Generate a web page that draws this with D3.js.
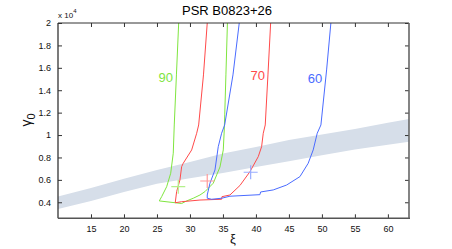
<!DOCTYPE html>
<html><head><meta charset="utf-8">
<script src="https://cdn.jsdelivr.net/npm/d3@7"></script>
<style>body{margin:0;background:#fff}svg{display:block;font-family:"Liberation Sans",Arial,sans-serif}</style>
</head><body><svg id="c" width="452" height="249"></svg>
<script>
const title = "PSR B0823+26";
const xTicks = [15,20,25,30,35,40,45,50,55,60];
const yTicks = [0.4,0.6,0.8,1,1.2,1.4,1.6,1.8,2];
const yTickLabels = ["0.4","0.6","0.8","1","1.2","1.4","1.6","1.8","2"];
// band (gamma0 in units of 1e4)
const bandXi    = [10, 15, 20, 25, 30, 35, 40, 45, 50, 55, 60, 63.2];
const bandUpper = [0.452,0.528,0.61,0.687,0.76,0.835,0.894,0.956,1.006,1.054,1.109,1.144];
const bandLower = [0.34,0.412,0.491,0.566,0.614,0.662,0.714,0.766,0.82,0.871,0.913,0.941];
// contours [xi, gamma0/1e4]
const contour90 = [[28.29,2.0],[27.95,1.537],[27.62,1.09],[27.47,0.838],[27.08,0.659],[26.47,0.539],[25.71,0.45],[25.35,0.412],[27.73,0.396],[28.74,0.389],[29.5,0.412],[30.5,0.436],[31.52,0.465],[32.27,0.495],[33.53,0.57],[34.55,0.715],[35.05,0.867],[35.2,1.045],[35.27,1.18],[35.45,1.537],[35.68,2.0]];
const contour70 = [[32.62,2.0],[32.05,1.537],[31.32,1.09],[31.02,1.016],[30.26,0.867],[28.98,0.748],[28.74,0.718],[28.48,0.599],[27.98,0.495],[27.77,0.396],[28.74,0.405],[31.52,0.42],[34.8,0.427],[34.85,0.45],[36.06,0.465],[37.58,0.55],[39.09,0.673],[40.35,0.807],[40.86,0.896],[41.11,1.016],[41.41,1.09],[41.82,1.537],[42.23,2.0]];
const contour60 = [[37.47,2.0],[36.52,1.537],[35.26,1.09],[34.8,1.016],[34.29,0.896],[33.79,0.688],[33.03,0.57],[32.62,0.465],[32.62,0.436],[33.29,0.427],[34.8,0.436],[36.06,0.454],[40.6,0.468],[40.71,0.492],[42.62,0.51],[44.65,0.554],[46.67,0.629],[47.92,0.748],[48.68,0.867],[49.29,1.016],[49.85,1.09],[50.71,1.581],[51.36,2.0]];
const contourLabels = ["90","70","60"];
const labelPos = [[26.32,1.516],[40.26,1.528],[48.94,1.504]];
const bestFit = [[28.23,0.539],[32.62,0.59],[39.2,0.668]];
const lineColors = ["#7fe53f","#ff4a4a","#4a6bff"];
const crossColors = ["#b4f08c","#ff9a9a","#98acff"];

const svg = d3.select("#c");
const L=58, R=409, T=23, B=218.3;
const x = d3.scaleLinear().domain([10,63.2]).range([L,R]);
const y = d3.scaleLinear().domain([0.257,2]).range([B,T]);

svg.append("defs").append("clipPath").attr("id","clip").append("rect")
  .attr("x",L).attr("y",T).attr("width",R-L).attr("height",B-T);
const plot = svg.append("g").attr("clip-path","url(#clip)");

const band = bandXi.map((v,i)=>({xi:v,u:bandUpper[i],l:bandLower[i]}));
plot.append("path").datum(band)
  .attr("fill","#d6dee9")
  .attr("d", d3.area().x(d=>x(d.xi)).y0(d=>y(d.l)).y1(d=>y(d.u)));

const line = d3.line().x(d=>x(d[0])).y(d=>y(d[1]));
[contour90,contour70,contour60].forEach((c,i)=>{
  plot.append("path").datum(c).attr("fill","none").attr("stroke",lineColors[i])
    .attr("stroke-width",1).attr("d",line);
});
bestFit.forEach((p,i)=>{
  const cx=x(p[0]), cy=y(p[1]), s=7;
  plot.append("line").attr("x1",cx-s).attr("x2",cx+s).attr("y1",cy).attr("y2",cy)
    .attr("stroke",crossColors[i]).attr("stroke-width",1.2);
  plot.append("line").attr("x1",cx).attr("x2",cx).attr("y1",cy-s).attr("y2",cy+s)
    .attr("stroke",crossColors[i]).attr("stroke-width",1.2);
});
contourLabels.forEach((t,i)=>{
  svg.append("text").attr("x",x(labelPos[i][0])).attr("y",y(labelPos[i][1]))
    .attr("text-anchor","middle").attr("dominant-baseline","central")
    .attr("font-size",13).attr("fill",lineColors[i]).text(t);
});

// axes
const ax = "#333";
const xb = svg.append("g").attr("transform",`translate(0,${B})`)
  .call(d3.axisBottom(x).tickValues(xTicks).tickSize(-4).tickPadding(7).tickFormat(d3.format("d")));
const xt = svg.append("g").attr("transform",`translate(0,${T})`)
  .call(d3.axisTop(x).tickValues(xTicks).tickSize(-4).tickFormat(""));
const yl = svg.append("g").attr("transform",`translate(${L},0)`)
  .call(d3.axisLeft(y).tickValues(yTicks).tickSize(-4).tickPadding(7).tickFormat((d,i)=>yTickLabels[i]));
const yr = svg.append("g").attr("transform",`translate(${R},0)`)
  .call(d3.axisRight(y).tickValues(yTicks).tickSize(-4).tickFormat(""));
[xb,xt,yl,yr].forEach(g=>{
  g.select(".domain").remove();
  g.selectAll(".tick line").attr("stroke",ax);
  g.selectAll("text").attr("font-size",9).attr("fill","#111").attr("font-family","'Liberation Sans',Arial,sans-serif");
});
svg.append("line").attr("x1",L).attr("x2",R).attr("y1",T).attr("y2",T).attr("stroke",ax).attr("stroke-width",1);
svg.append("line").attr("x1",L).attr("x2",L).attr("y1",T).attr("y2",B).attr("stroke",ax).attr("stroke-width",1.3);
svg.append("line").attr("x1",L).attr("x2",R+1).attr("y1",B).attr("y2",B).attr("stroke","#555").attr("stroke-width",1.6);
svg.append("line").attr("x1",R).attr("x2",R).attr("y1",T).attr("y2",B).attr("stroke","#666").attr("stroke-width",1.6);

// title and labels
svg.append("text").attr("x",227).attr("y",15).attr("text-anchor","middle")
  .attr("font-size",13).attr("fill","#000").text(title);
const ex = svg.append("text").attr("x",58).attr("y",18).attr("font-size",8).attr("fill","#111");
ex.append("tspan").text("x 10");
ex.append("tspan").attr("dy",-5).attr("font-size",6).text("4");
const yt = svg.append("text").attr("transform","translate(31,120) rotate(-90)")
  .attr("text-anchor","middle").attr("font-size",14).attr("fill","#111");
yt.append("tspan").text("γ");
yt.append("tspan").attr("dy",4).attr("font-size",11).text("0");
svg.append("text").attr("x",233).attr("y",243).attr("text-anchor","middle")
  .attr("font-size",13).attr("fill","#111").text("ξ");
</script></body></html>
